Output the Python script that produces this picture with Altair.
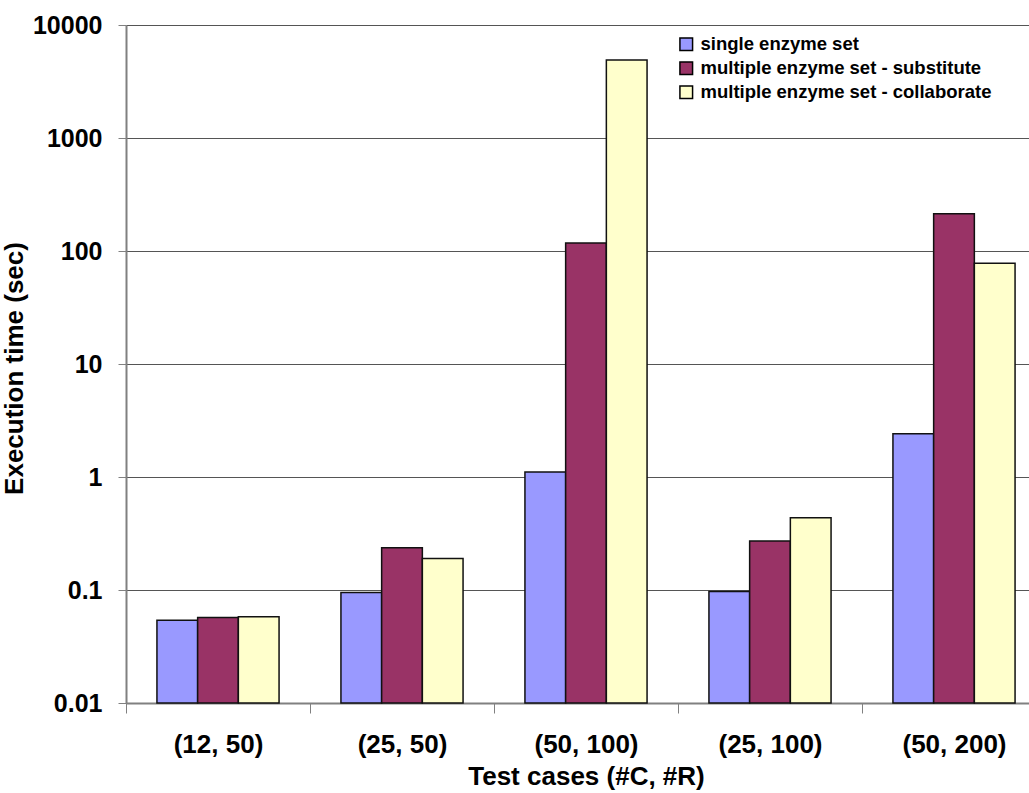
import altair as alt
import pandas as pd

categories = ["(12, 50)", "(25, 50)", "(50, 100)", "(25, 100)", "(50, 200)"]
series = ["single enzyme set", "multiple enzyme set - substitute", "multiple enzyme set - collaborate"]
single = [0.054, 0.095, 1.11, 0.097, 2.41]
substitute = [0.057, 0.237, 118, 0.272, 214]
collaborate = [0.058, 0.19, 4900, 0.435, 78]
colors = ["#9999FF", "#993366", "#FFFFCC"]
y_ticks = [0.01, 0.1, 1, 10, 100, 1000, 10000]
y_floor = 0.01

rows = []
for i, c in enumerate(categories):
    for s, vals in zip(series, [single, substitute, collaborate]):
        rows.append({"case": c, "series": s, "value": vals[i]})
df = pd.DataFrame(rows)

FONT = "Liberation Sans"

chart = alt.Chart(df).mark_bar(stroke="#111111", strokeWidth=1.5).encode(
    x=alt.X("case:N", sort=categories,
            scale=alt.Scale(paddingInner=0, paddingOuter=0, range=[0, 920]),
            axis=alt.Axis(title="Test cases (#C, #R)", labelAngle=0, tickBand="extent",
                          tickSize=10, tickColor="#808080", domainColor="#808080",
                          domainWidth=2, tickWidth=1, labelPadding=18,
                          labelFontSize=26, labelFont=FONT, labelFontWeight="bold",
                          labelColor="black", titleFont=FONT, titleFontSize=26,
                          titleFontWeight="bold", titleColor="black", titlePadding=6,
                          grid=False)),
    xOffset=alt.XOffset("series:N", sort=series,
                        scale=alt.Scale(paddingInner=0, paddingOuter=0.76)),
    y=alt.Y("value:Q",
            scale=alt.Scale(type="log", domain=[0.01, 10000], nice=False),
            axis=alt.Axis(title="Execution time (sec)", values=y_ticks, format="~g",
                          tickSize=8, tickColor="#808080", domainColor="#808080",
                          domainWidth=2, labelPadding=16,
                          labelFontSize=25, labelFont=FONT, labelFontWeight="bold",
                          labelColor="black", titleFont=FONT, titleFontSize=26,
                          titleFontWeight="bold", titleColor="black",
                          titleX=-99, titleY=343, titleAngle=-90,
                          grid=True, gridColor="#555555", gridWidth=1)),
    y2=alt.Y2(datum=y_floor),
    color=alt.Color("series:N", sort=series,
                    scale=alt.Scale(domain=series, range=colors),
                    legend=alt.Legend(title=None, orient="none", legendX=551, legendY=10,
                                      symbolType="square", symbolSize=160,
                                      symbolStrokeColor="black", symbolStrokeWidth=1.5,
                                      symbolOpacity=1, labelLimit=500,
                                      labelFont=FONT, labelFontSize=18.5,
                                      labelFontWeight="bold", labelColor="black",
                                      labelOffset=5, rowPadding=4, padding=0)),
).properties(
    width=903, height=678,
    autosize=alt.AutoSizeParams(type="none"),
    padding={"left": 126, "top": 25, "right": 0, "bottom": 90},
).configure_view(stroke=None).configure(background="white")

chart.save("out.html", embed_options={"renderer": "svg", "actions": False})
